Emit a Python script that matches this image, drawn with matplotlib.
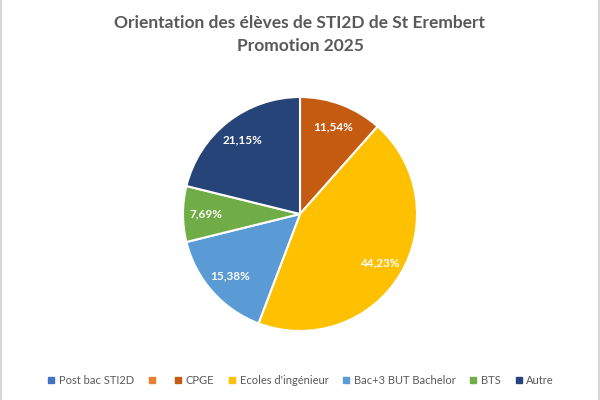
import math
import matplotlib.pyplot as plt
from matplotlib.lines import Line2D

plt.rcParams['font.family'] = ['Lato', 'DejaVu Sans']

# Data (number of students, total 52)
categories = ['Post bac STI2D', '', 'CPGE', "Ecoles d'ingénieur",
              'Bac+3 BUT Bachelor', 'BTS', 'Autre']
counts = [0, 0, 6, 23, 8, 4, 11]
colors = ['#4472C4', '#ED7D31', '#C55A11', '#FFC000', '#5B9BD5', '#70AD47', '#264478']

title = "Orientation des élèves de STI2D de St Erembert\nPromotion 2025"
text_color = '#595959'

fig = plt.figure(figsize=(6, 4), dpi=100)

# thin gray chart border at the left and right edges
for x in (0.001, 0.999):
    fig.add_artist(Line2D([x, x], [0, 1], color='#d0d0d0', linewidth=1.2,
                          transform=fig.transFigure))

# axes sized so pie center ~ (300, 214) px and radius ~117 px
ax = fig.add_axes([(300 - 117) / 600, (400 - 214 - 117) / 400, 234 / 600, 234 / 400])

# only draw non-zero slices
vals = [c for c in counts if c > 0]
cols = [col for c, col in zip(counts, colors) if c > 0]
total = sum(counts)

wedges, texts = ax.pie(vals, colors=cols, startangle=90, counterclock=False,
                       wedgeprops=dict(edgecolor='white', linewidth=1.5),
                       radius=1.0)
for w, v in zip(wedges, vals):
    ang = math.radians((w.theta1 + w.theta2) / 2)
    r = 0.80
    pct = f"{100 * v / total:.2f}%".replace('.', ',')
    ax.text(r * math.cos(ang), r * math.sin(ang), pct, ha='center', va='center',
            color='white', fontsize=8.5, fontweight='bold')
ax.set_xlim(-1, 1)
ax.set_ylim(-1, 1)
ax.set_aspect('equal')

fig.text(0.5, 0.962, title, ha='center', va='top', fontsize=12.5,
         fontweight='bold', color=text_color, linespacing=1.5)

handles = [Line2D([0], [0], marker='s', linestyle='', markersize=4.5,
                  markerfacecolor=c, markeredgecolor=c) for c in colors]
fig.legend(handles, categories, loc='center', bbox_to_anchor=(0.5, 0.05),
           ncol=len(categories), frameon=False, fontsize=8,
           labelcolor=text_color, handletextpad=0.2, columnspacing=1.1,
           handlelength=1.0)

fig.savefig('out.png', dpi=100)
